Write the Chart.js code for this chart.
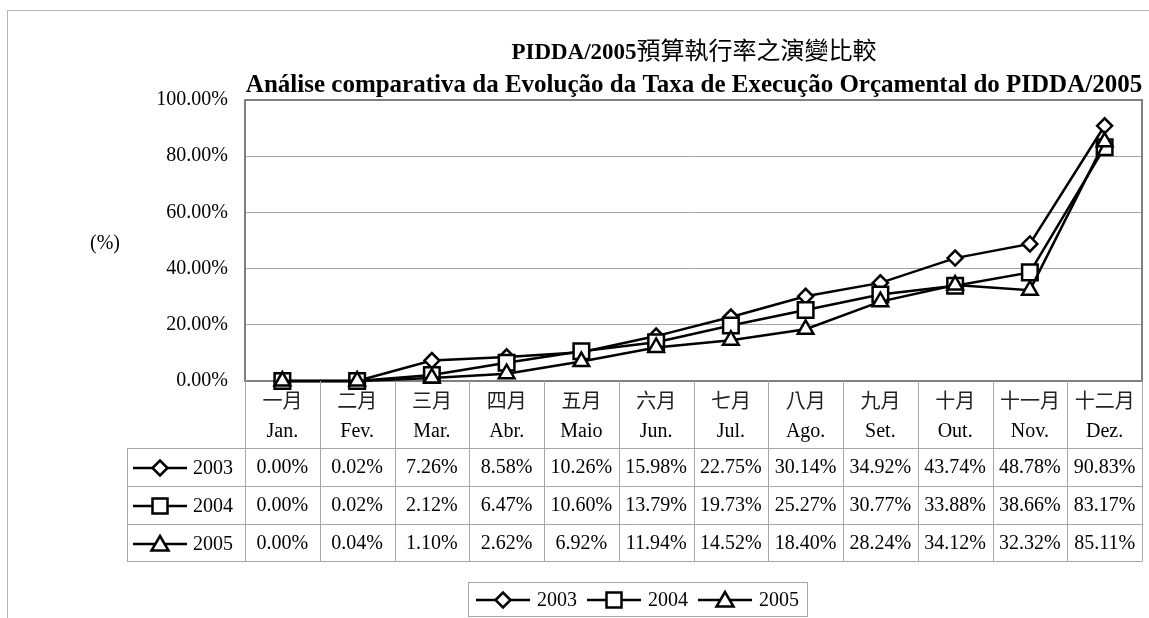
<!DOCTYPE html>
<html>
<head>
<meta charset="utf-8">
<script src="https://cdn.jsdelivr.net/npm/chart.js@4/dist/chart.umd.min.js"></script>
<style>body{margin:0;background:#fff}</style>
</head>
<body>
<canvas id="grafico" width="1149" height="618"></canvas>
<script>
const mesesZh = ["一月","二月","三月","四月","五月","六月","七月","八月","九月","十月","十一月","十二月"];
const mesesPt = ["Jan.","Fev.","Mar.","Abr.","Maio","Jun.","Jul.","Ago.","Set.","Out.","Nov.","Dez."];
const anos = ["2003","2004","2005"];
const datos2003 = [0.00,0.02,7.26,8.58,10.26,15.98,22.75,30.14,34.92,43.74,48.78,90.83];
const datos2004 = [0.00,0.02,2.12,6.47,10.60,13.79,19.73,25.27,30.77,33.88,38.66,83.17];
const datos2005 = [0.00,0.04,1.10,2.62,6.92,11.94,14.52,18.40,28.24,34.12,32.32,85.11];
const ticksY = [0,20,40,60,80,100];
const titulo1a = "PIDDA/2005";
const titulo1b = "預算執行率之演變比較";
const titulo2 = "Análise comparativa da Evolução da Taxa de Execução Orçamental do PIDDA/2005";
const formas = ["rectRot","rect","triangle"];

const SERIF = "'Liberation Serif', 'Noto Sans CJK TC', serif";
const GRIS = "#a6a6a6";

// dibuja un marcador (rombo, cuadrado, triangulo)
function marcador(ctx, forma, x, y){
    ctx.save();
    ctx.fillStyle = "#fff";
    ctx.strokeStyle = "#000";
    ctx.lineWidth = 2.5;
    ctx.beginPath();
    if(forma=="rectRot"){
        ctx.moveTo(x-7.5,y); ctx.lineTo(x,y-7.5); ctx.lineTo(x+7.5,y); ctx.lineTo(x,y+7.5);
    } else if(forma=="rect"){
        ctx.rect(x-7.5,y-7.5,15,15);
    } else {
        ctx.moveTo(x,y-8); ctx.lineTo(x+8.5,y+6.5); ctx.lineTo(x-8.5,y+6.5);
    }
    ctx.closePath();
    ctx.fill();
    ctx.stroke();
    ctx.restore();
}

function muestra(ctx, forma, x1, x2, y){
    ctx.save();
    ctx.strokeStyle="#000";
    ctx.lineWidth=2.5;
    ctx.beginPath(); ctx.moveTo(x1,y); ctx.lineTo(x2,y); ctx.stroke();
    ctx.restore();
    marcador(ctx, forma, (x1+x2)/2, y);
}

const tabla = {
    id:"tabla",
    beforeDatasetsDraw(chart){
        const ctx = chart.ctx, a = chart.chartArea;
        ctx.save();
        ctx.strokeStyle="#808080";
        ctx.lineWidth=2;
        ctx.strokeRect(a.left, a.top, a.right-a.left, a.bottom-a.top);
        ctx.restore();
    },
    afterDraw(chart){
        const ctx = chart.ctx, a = chart.chartArea, xs = chart.scales.x;
        ctx.save();
        // borde exterior
        ctx.strokeStyle="#b4b4b4";
        ctx.lineWidth=1;
        ctx.strokeRect(7.5,10.5,1160,700);

        // titulos
        ctx.fillStyle="#000";
        ctx.textBaseline="alphabetic";
        ctx.textAlign="left";
        ctx.font="bold 23px 'Liberation Serif', serif";
        const w1 = ctx.measureText(titulo1a).width;
        ctx.font="24px 'Noto Sans CJK TC', sans-serif";
        const w2 = ctx.measureText(titulo1b).width;
        const x0 = 694-(w1+w2)/2;
        ctx.font="bold 23px 'Liberation Serif', serif";
        ctx.fillText(titulo1a, x0, 59);
        ctx.font="24px 'Noto Sans CJK TC', sans-serif";
        ctx.fillText(titulo1b, x0+w1, 59);
        ctx.textAlign="center";
        ctx.font="bold 25px 'Liberation Serif', serif";
        ctx.fillText(titulo2, 694, 92);

        ctx.textBaseline="middle";
        ctx.font="20px "+SERIF;
        ctx.fillText("(%)", 105, 244);

        // tabla de datos
        const ancho = xs.getPixelForValue(1)-xs.getPixelForValue(0);
        const filas = [448.5,486.5,524.5,561.5];
        ctx.strokeStyle=GRIS;
        ctx.lineWidth=1;
        ctx.beginPath();
        for(let i=0;i<=mesesZh.length;i++){
            const x = Math.round(xs.getPixelForValue(0)-ancho/2+i*ancho)+0.5;
            ctx.moveTo(x,a.bottom); ctx.lineTo(x,filas[3]);
        }
        ctx.moveTo(127.5,filas[0]); ctx.lineTo(127.5,filas[3]);
        filas.forEach(y=>{ctx.moveTo(127,y); ctx.lineTo(a.right,y);});
        ctx.stroke();

        const series=[datos2003,datos2004,datos2005];
        for(let i=0;i<mesesZh.length;i++){
            const x = xs.getPixelForValue(i);
            ctx.font="20px 'Noto Sans CJK TC', sans-serif";
            ctx.fillStyle="#222";
            ctx.fillText(mesesZh[i], x, 400);
            ctx.font="20px "+SERIF;
            ctx.fillStyle="#000";
            ctx.fillText(mesesPt[i], x, 432);
            series.forEach((s,j)=>{
                ctx.fillText(s[i].toFixed(2)+"%", x, 468+j*38);
            });
        }
        ctx.textAlign="left";
        anos.forEach((an,j)=>{
            const y=468+j*38;
            muestra(ctx, formas[j], 133, 187, y);
            ctx.fillStyle="#000";
            ctx.font="20px "+SERIF;
            ctx.fillText(an, 193, y+1);
        });

        // leyenda
        ctx.strokeStyle=GRIS;
        ctx.strokeRect(468.5,582.5,339,34);
        const pos=[476,587,698];
        anos.forEach((an,j)=>{
            muestra(ctx, formas[j], pos[j], pos[j]+54, 600);
            ctx.fillStyle="#000";
            ctx.font="20px "+SERIF;
            ctx.fillText(an, pos[j]+61, 601);
        });
        ctx.restore();
    }
};

function serie(nombre, datos, forma, radio, orden){
    return {
        label:nombre,
        data:datos,
        order:orden,
        borderColor:"#000",
        borderWidth:2.5,
        backgroundColor:"#fff",
        pointStyle:forma,
        pointRadius:radio,
        pointHoverRadius:radio,
        pointBackgroundColor:"#fff",
        pointBorderColor:"#000",
        pointBorderWidth:2.5,
        tension:0,
        clip:false
    };
}

const ctx = document.getElementById("grafico").getContext("2d");
const miGrafico = new Chart(ctx,{
    type:"line",
    data:{
        labels:mesesPt,
        datasets:[
            serie(anos[0], datos2003, formas[0], 7.5, 2),
            serie(anos[1], datos2004, formas[1], 11, 1),
            serie(anos[2], datos2005, formas[2], 9, 0)
        ]
    },
    plugins:[tabla],
    options:{
        responsive:false,
        animation:false,
        layout:{autoPadding:false, padding:{top:100,bottom:237,right:7,left:0}},
        plugins:{legend:{display:false},title:{display:false},tooltip:{enabled:false}},
        scales:{
            x:{display:false, offset:true},
            y:{
                min:0, max:100,
                afterFit(s){ s.width = 245; },
                border:{display:false},
                grid:{color:GRIS, lineWidth:1, drawTicks:false},
                ticks:{
                    stepSize:20,
                    padding:17,
                    color:"#000",
                    font:{family:SERIF, size:20},
                    callback:v=>ticksY.includes(v) ? v.toFixed(2)+"%" : ""
                }
            }
        }
    }
});
</script>
</body>
</html>
